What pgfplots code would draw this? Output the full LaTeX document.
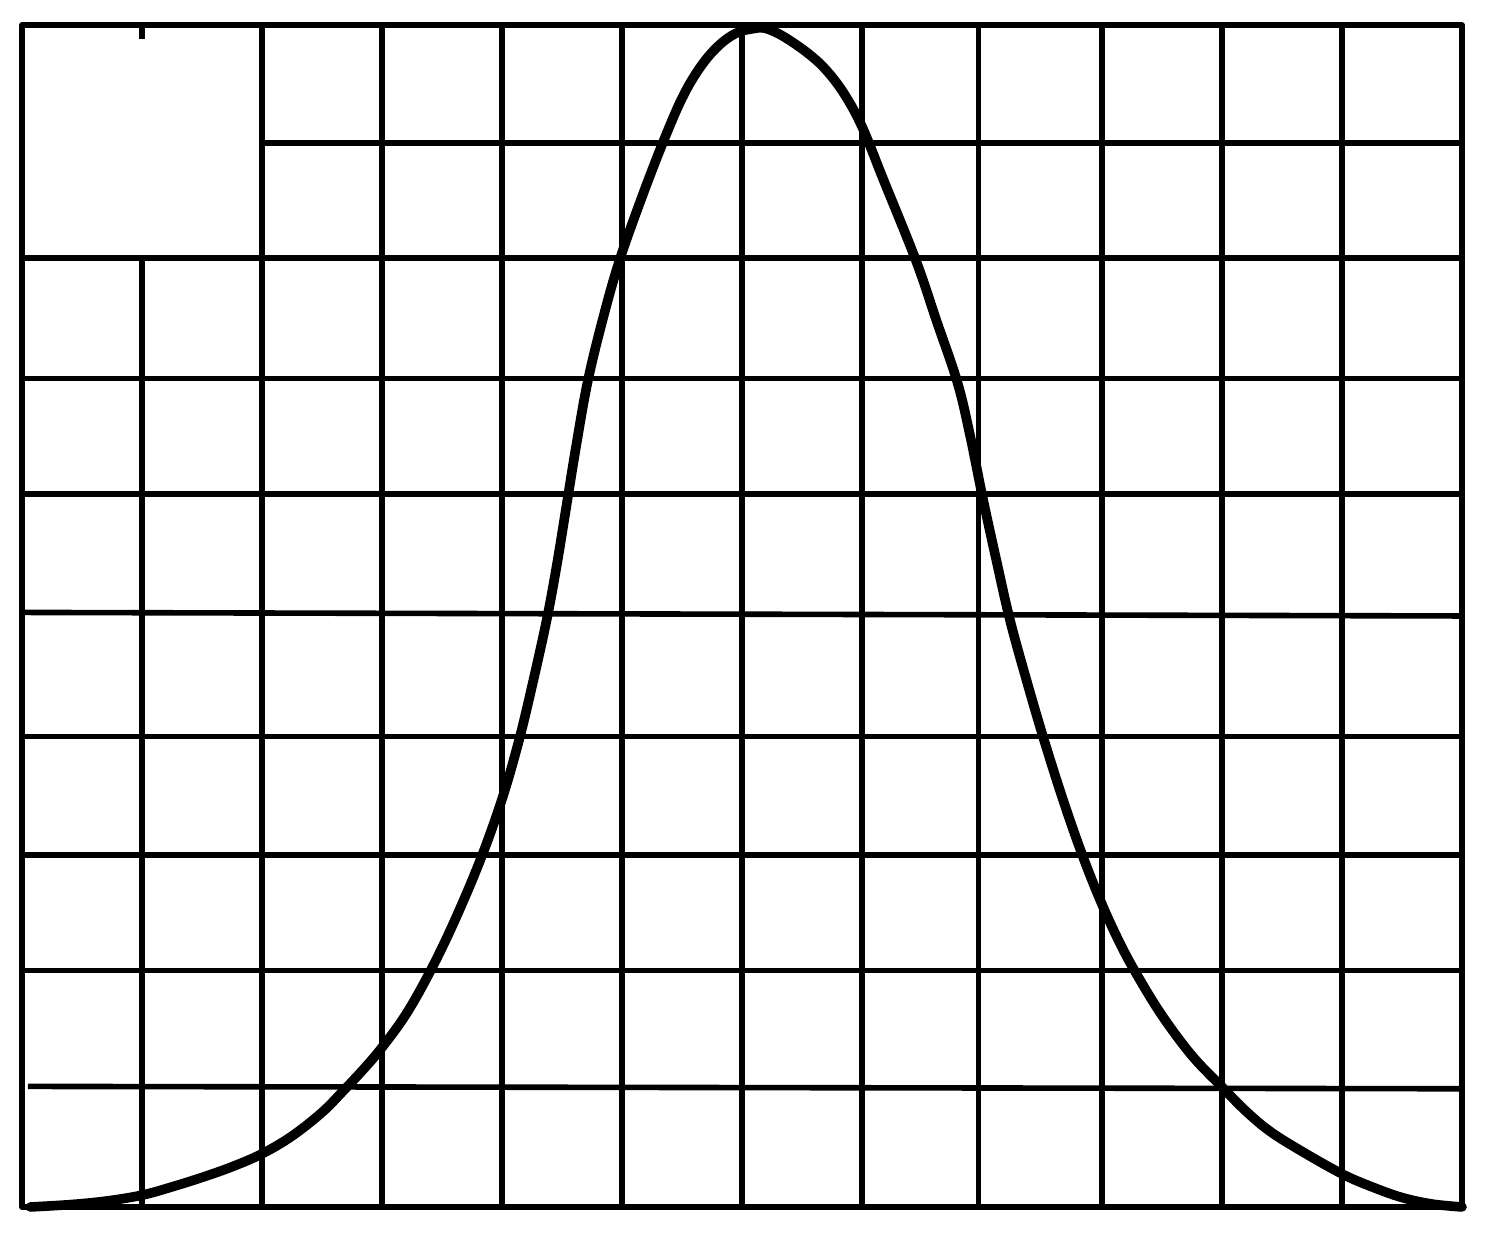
\documentclass[border=0pt]{standalone}
\usepackage{pgfplots}
\pgfplotsset{compat=1.18}
\begin{document}
\begin{tikzpicture}
\begin{axis}[
  scale only axis,
  width=360pt, height=295.5pt,
  xmin=0, xmax=12, ymin=0, ymax=10,
  ticks=none,
  axis line style={line width=1.4pt, line cap=round, line join=round},
  clip=false,
]
% bounding box margins (white border as in reference)
\path (rel axis cs:0,0) ++(-5.5pt,-10.25pt) (rel axis cs:1,1) ++(7.5pt,6.25pt);
\pgfplotsset{gl/.style={black, line width=1.4pt, forget plot}}
% vertical grid lines
\addplot[gl] coordinates {(1,0) (1,8)};
\addplot[gl] coordinates {(1,10) (1,9.88)};
\addplot[gl] coordinates {(2,0) (2,10)};
\addplot[gl] coordinates {(3,0) (3,10)};
\addplot[gl] coordinates {(4,0) (4,10)};
\addplot[gl] coordinates {(5,0) (5,10)};
\addplot[gl] coordinates {(6,0) (6,10)};
\addplot[gl] coordinates {(7,0) (7,10)};
\addplot[gl] coordinates {(7.97,0) (7.97,10)};
\addplot[gl] coordinates {(9,0) (9,10)};
\addplot[gl] coordinates {(10,0) (10,10)};
\addplot[gl] coordinates {(11,0) (11,10)};
% horizontal grid lines
\addplot[gl] coordinates {(0.05,1.02) (12,1)};
\addplot[gl] coordinates {(0,2) (12,2)};
\addplot[gl] coordinates {(0,2.98) (12,2.98)};
\addplot[gl] coordinates {(0,3.98) (12,3.98)};
\addplot[gl] coordinates {(0,5.03) (12,5.0)};
\addplot[gl] coordinates {(0,6.03) (12,6.03)};
\addplot[gl] coordinates {(0,7.01) (12,7.01)};
\addplot[gl] coordinates {(0,8.03) (12,8.03)};
\addplot[gl] coordinates {(2,9.0) (12,9.0)};
% bell curve
\addplot[black, line width=2.4pt, smooth, tension=0.6, line cap=round, line join=round] coordinates {
(0.07,0) (0.4,0.02) (0.7,0.05) (1.0,0.10) (1.25,0.17) (1.5,0.25) (1.75,0.34)
(2.0,0.45) (2.25,0.60) (2.5,0.80) (2.675,0.98) (2.85,1.17) (3.0,1.35) (3.2,1.63)
(3.4,1.99) (3.6,2.41) (3.817,2.93) (4.0,3.45) (4.142,3.95) (4.26,4.45) (4.375,4.98)
(4.46,5.45) (4.54,5.95) (4.62,6.45) (4.717,6.997) (4.85,7.55) (4.983,8.02) (5.15,8.50)
(5.333,8.985) (5.5,9.38) (5.65,9.64) (5.8,9.82) (5.95,9.93) (6.1,9.97) (6.2,9.97)
(6.35,9.9) (6.55,9.76) (6.7,9.62) (6.85,9.42) (7.0,9.14) (7.175,8.70) (7.45,8.006)
(7.62,7.50) (7.794,6.98) (7.9,6.53) (8.008,5.99) (8.12,5.47) (8.233,4.966) (8.37,4.46)
(8.517,3.951) (8.68,3.43) (8.842,2.961) (9.0,2.56) (9.15,2.23) (9.292,1.963) (9.5,1.62)
(9.75,1.28) (10.0,1.015) (10.2,0.81) (10.4,0.64) (10.65,0.48) (11.0,0.28) (11.25,0.17)
(11.5,0.08) (11.75,0.025) (12.0,0)
};
\end{axis}
\end{tikzpicture}
\end{document}
